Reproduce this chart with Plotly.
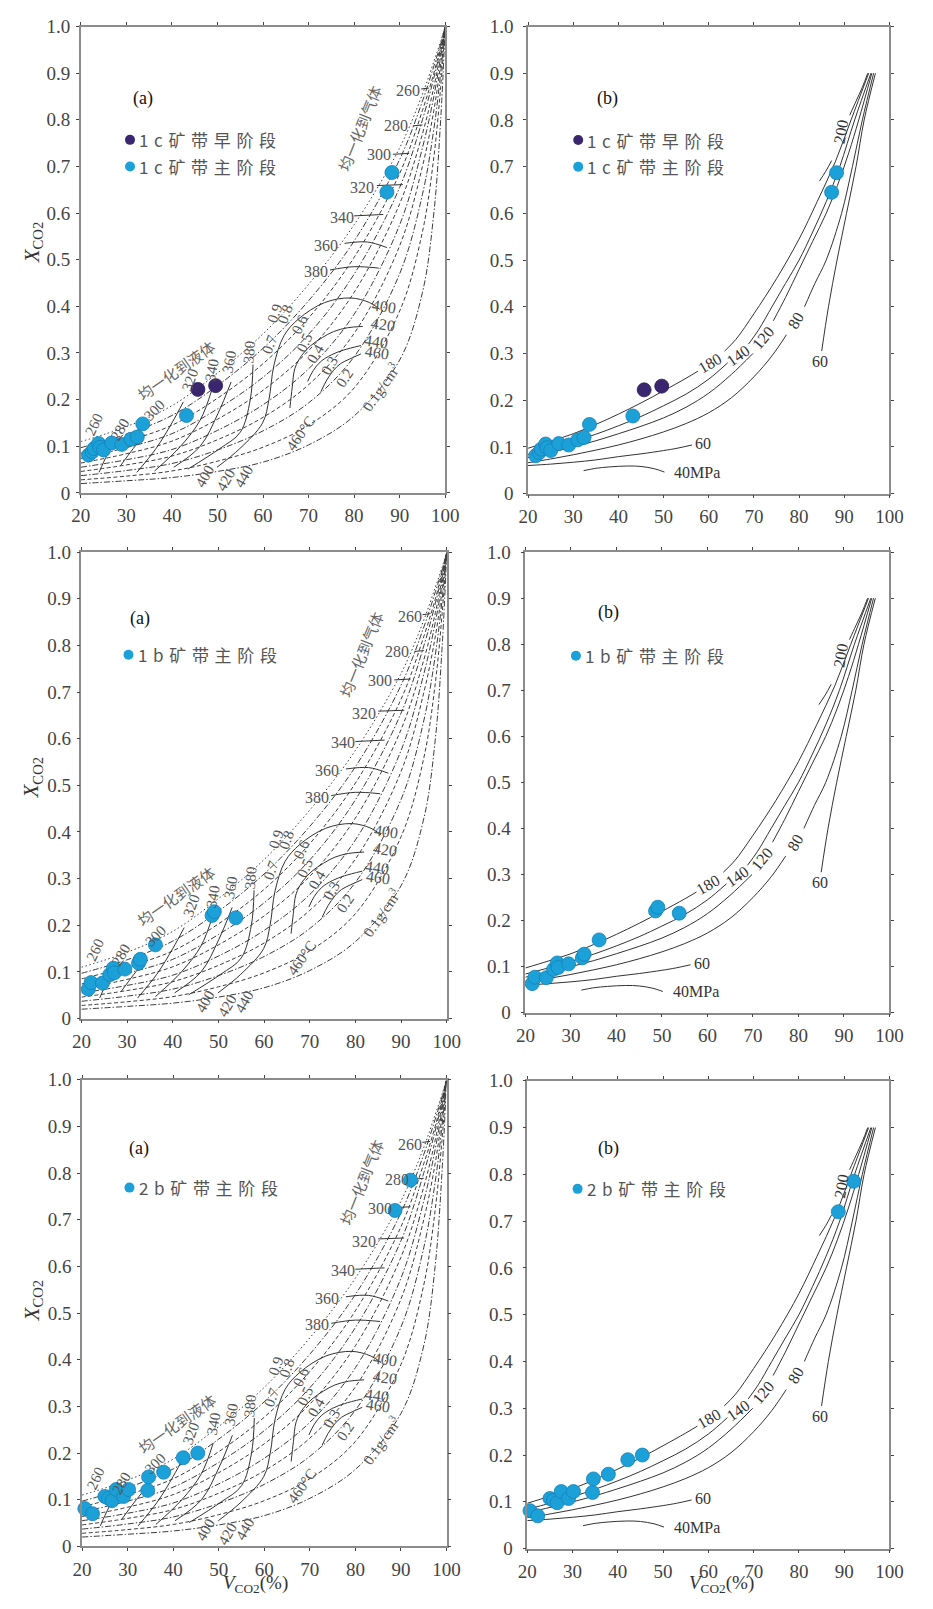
import plotly.graph_objects as go

# ---------------- axis ticks ----------------
X_TICKS = [20, 30, 40, 50, 60, 70, 80, 90, 100]
Y_TICKS = [0, 0.1, 0.2, 0.3, 0.4, 0.5, 0.6, 0.7, 0.8, 0.9, 1.0]
Y_TICKTEXT = ["0", "0.1", "0.2", "0.3", "0.4", "0.5", "0.6", "0.7", "0.8", "0.9", "1.0"]

# ---------------- measured inclusions (V_CO2 %, X_CO2) ----------------
C1_EARLY_V = [45.7, 49.6]
C1_EARLY_X = [0.222, 0.230]
C1_MAIN_V = [21.7, 22.5, 22.9, 23.9, 24.2, 25.0, 26.8, 29.0, 31.0, 32.4, 33.6, 43.2, 87.2, 88.3]
C1_MAIN_X = [0.081, 0.088, 0.095, 0.106, 0.098, 0.092, 0.107, 0.104, 0.115, 0.120, 0.148, 0.166, 0.645, 0.687]
B1_MAIN_V = [21.5, 22.1, 24.6, 26.2, 27.0, 27.2, 29.5, 32.5, 32.9, 36.2, 48.6, 49.1, 53.8]
B1_MAIN_X = [0.063, 0.077, 0.076, 0.094, 0.108, 0.098, 0.106, 0.119, 0.127, 0.158, 0.221, 0.229, 0.216]
B2_MAIN_V = [20.6, 22.3, 25.0, 25.8, 26.6, 27.5, 29.1, 30.2, 34.4, 34.6, 37.9, 42.2, 45.4, 88.7, 92.1]
B2_MAIN_X = [0.081, 0.070, 0.107, 0.103, 0.098, 0.122, 0.107, 0.122, 0.120, 0.149, 0.159, 0.190, 0.200, 0.720, 0.785]

LEGEND_1 = ["1c矿带早阶段", "1c矿带主阶段"]
LEGEND_2 = ["1b矿带主阶段"]
LEGEND_3 = ["2b矿带主阶段"]

# ---------------- (a) diagram: CO2-phase density fan ----------------
FAN_V = [20, 30, 40, 50, 60, 70, 80, 90, 95, 97.5, 99, 100]
FAN_1 = [0.020, 0.026, 0.033, 0.046, 0.066, 0.103, 0.165, 0.285, 0.43, 0.60, 0.80, 1.0]
FAN_2 = [0.028, 0.036, 0.047, 0.068, 0.098, 0.145, 0.225, 0.39, 0.56, 0.72, 0.87, 1.0]
FAN_3 = [0.037, 0.048, 0.063, 0.092, 0.133, 0.193, 0.292, 0.47, 0.64, 0.78, 0.90, 1.0]
FAN_4 = [0.046, 0.060, 0.079, 0.114, 0.162, 0.232, 0.342, 0.53, 0.70, 0.82, 0.92, 1.0]
FAN_5 = [0.055, 0.071, 0.093, 0.134, 0.189, 0.266, 0.383, 0.575, 0.74, 0.85, 0.935, 1.0]
FAN_6 = [0.064, 0.084, 0.111, 0.158, 0.220, 0.305, 0.430, 0.62, 0.77, 0.87, 0.945, 1.0]
FAN_7 = [0.074, 0.097, 0.127, 0.180, 0.248, 0.340, 0.469, 0.655, 0.80, 0.89, 0.952, 1.0]
FAN_8 = [0.085, 0.111, 0.145, 0.203, 0.277, 0.375, 0.505, 0.685, 0.82, 0.90, 0.958, 1.0]
FAN_9 = [0.097, 0.126, 0.166, 0.230, 0.310, 0.412, 0.540, 0.715, 0.84, 0.915, 0.963, 1.0]
FAN_10 = [0.110, 0.142, 0.187, 0.257, 0.341, 0.447, 0.575, 0.74, 0.855, 0.925, 0.968, 1.0]
FAN_LINES = [FAN_1, FAN_2, FAN_3, FAN_4, FAN_5, FAN_6, FAN_7, FAN_8, FAN_9, FAN_10]

# homogenisation-to-liquid isotherms (solid)
LIQ_CURVES = [
    ([24.0, 25.0, 26.2], [0.044, 0.066, 0.090]),
    ([28.7, 31.5, 34.0], [0.058, 0.095, 0.125]),
    ([32.3, 36.5, 40.0, 42.5], [0.044, 0.095, 0.150, 0.195]),
    ([36.2, 41.9, 46.2, 48.8], [0.047, 0.100, 0.156, 0.222]),
    ([40.4, 46.2, 50.1, 53.0], [0.055, 0.100, 0.170, 0.238]),
    ([43.5, 50.5, 55.0, 57.2, 57.8], [0.051, 0.095, 0.130, 0.200, 0.275]),
    ([49.9, 54.9, 59.9, 61.3, 62.4, 64.6, 67.8, 73.5, 79.2, 83.4, 85.6],
     [0.055, 0.095, 0.150, 0.200, 0.274, 0.337, 0.373, 0.408, 0.418, 0.408, 0.394]),
    ([65.9, 66.4, 67.0, 68.5, 70.5, 73.0, 75.5, 78.5, 81.9],
     [0.182, 0.225, 0.267, 0.295, 0.316, 0.333, 0.346, 0.354, 0.357]),
    ([69.8, 71.0, 72.6, 75.0, 77.6, 81.5], [0.239, 0.262, 0.281, 0.296, 0.306, 0.316]),
    ([72.7, 74.0, 75.5, 77.0, 79.0, 81.5], [0.217, 0.242, 0.263, 0.277, 0.287, 0.298]),
]
# homogenisation-to-gas isotherms (short solid segments)
GAS_CURVES = [
    ([94.7, 96.4], [0.866, 0.868]),
    ([92.9, 95.0], [0.787, 0.789]),
    ([88.5, 92.1], [0.726, 0.728]),
    ([85.0, 90.7], [0.659, 0.661]),
    ([80.0, 86.4], [0.594, 0.597]),
    ([77.9, 82.9, 87.2], [0.535, 0.538, 0.526]),
    ([74.7, 80.0, 85.4], [0.478, 0.485, 0.482]),
]

LIQ_LABELS = ["260", "280", "300", "320", "340", "360", "380"]
LIQ_LABEL_V = [23.0, 28.7, 36.2, 44.0, 48.8, 52.7, 57.0]
LIQ_LABEL_X = [0.147, 0.136, 0.178, 0.242, 0.263, 0.282, 0.302]
BOT_LABELS = ["400", "420", "440"]
BOT_LABEL_V = [47.2, 51.9, 55.8]
BOT_LABEL_X = [0.037, 0.027, 0.037]
ARC_LABELS = ["400", "420", "440", "460"]
ARC_LABEL_V = [86.6, 86.4, 84.8, 85.0]
ARC_LABEL_X = [0.400, 0.362, 0.324, 0.302]
GAS_LABELS = ["260", "280", "300", "320", "340", "360", "380"]
GAS_LABEL_V = [91.9, 89.1, 85.4, 81.8, 77.3, 73.8, 71.6]
GAS_LABEL_X = [0.862, 0.787, 0.725, 0.654, 0.591, 0.531, 0.475]
DENS_LABELS = ["0.9", "0.8", "0.7", "0.6", "0.5", "0.4", "0.3", "0.2", "0.1g/cm<sup>3</sup>"]
DENS_LABEL_V = [62.6, 64.9, 61.5, 68.1, 69.0, 71.5, 74.7, 77.9, 85.7]
DENS_LABEL_X = [0.386, 0.383, 0.319, 0.362, 0.322, 0.298, 0.274, 0.247, 0.228]
T460_LABEL = ("460°C", 68.3, 0.129)
LIQ_ZONE = ("均一化到液体", 40.8, 0.263)
GAS_ZONE = ("均一化到气体", 81.2, 0.781)

# ---------------- (b) diagram: isobars (MPa) ----------------
ISOBARS = [
    ([84.5, 85.9, 87.2], [0.669, 0.690, 0.713]),                       # 200 lower
    ([91.2, 92.6, 94.0, 95.2], [0.810, 0.840, 0.870, 0.900]),          # 200 upper
    ([20, 25, 30, 35, 40, 45, 50, 55, 57.6],
     [0.097, 0.112, 0.128, 0.148, 0.170, 0.194, 0.220, 0.247, 0.262]),  # 180
    ([63.5, 66, 70, 75, 80, 84, 88, 91.5, 95.4],
     [0.305, 0.330, 0.385, 0.460, 0.545, 0.625, 0.710, 0.800, 0.900]),
    ([20, 25, 30, 35, 40, 45, 50, 55, 60, 64.2],
     [0.084, 0.097, 0.111, 0.127, 0.145, 0.165, 0.188, 0.213, 0.245, 0.280]),  # 140
    ([68.8, 71, 74, 77, 80, 83, 86, 89, 92.3, 95.9],
     [0.320, 0.350, 0.400, 0.450, 0.500, 0.560, 0.625, 0.700, 0.800, 0.900]),
    ([20, 25, 30, 35, 40, 45, 50, 55, 60, 65, 69.8],
     [0.077, 0.088, 0.100, 0.113, 0.128, 0.144, 0.162, 0.185, 0.215, 0.255, 0.300]),  # 120
    ([74.3, 77, 80, 83, 86, 88.5, 91, 93.2, 96.1],
     [0.370, 0.420, 0.480, 0.540, 0.600, 0.660, 0.730, 0.800, 0.900]),
    ([20, 25, 30, 35, 40, 45, 50, 55, 60, 65, 70, 74, 77.2],
     [0.066, 0.074, 0.083, 0.093, 0.104, 0.117, 0.132, 0.150, 0.173, 0.205, 0.250, 0.295, 0.340]),  # 80
    ([81.2, 83.5, 86, 89.4, 91.8, 94.0, 96.5],
     [0.400, 0.450, 0.500, 0.600, 0.700, 0.800, 0.900]),
    ([85.0, 86.5, 88.4, 90.5, 92.6, 94.4, 96.9],
     [0.305, 0.400, 0.500, 0.600, 0.700, 0.800, 0.900]),                # 60 upper
    ([20, 25, 30, 35, 40, 45, 50, 53, 56.3],
     [0.060, 0.063, 0.067, 0.072, 0.079, 0.085, 0.092, 0.097, 0.104]),  # 60 lower
    ([32.3, 35, 38, 42, 45, 48, 50.2],
     [0.049, 0.054, 0.057, 0.059, 0.058, 0.053, 0.046]),                # 40
]
ISOBAR_LABELS = ["200", "180", "140", "120", "80", "60", "60", "40MPa"]
ISOBAR_LABEL_V = [89.3, 60.2, 66.5, 72.1, 79.3, 84.7, 58.8, 57.4]
ISOBAR_LABEL_X = [0.775, 0.278, 0.296, 0.334, 0.370, 0.282, 0.107, 0.046]

# ---------------- styling ----------------
CYAN = "#1ca0d8"
CYAN_EDGE = "#1582b8"
PURPLE = "#3a266e"
INK = "#333333"
LABEL_GREY = "#555555"
SERIF = "Liberation Serif"
CJK = "Noto Sans CJK SC"
DASHDOT = "6px,2px,1.5px,2px"
DASH = "4px,2.5px"
DOT = "1.5px,2.5px"
FAN_DASH = [DASHDOT, DASH, DASHDOT, DASH, DASHDOT, DASH, DASHDOT, DASH, DASHDOT, DOT]
LIQ_ANGLES = [-65, -60, -45, -70, -80, -80, -85]
DENS_ANGLES = [-70, -70, -70, -65, -65, -60, -60, -55, -55]
ISOBAR_ANGLES = [-80, -30, -35, -50, -60, 0, 0, 0]

XD = {1: [0.0779, 0.4788], 2: [0.5699, 0.9675], 3: [0.0786, 0.4805],
      4: [0.5670, 0.9675], 5: [0.0793, 0.4802], 6: [0.5691, 0.9675]}
YD = {1: [0.6959, 0.9896], 2: [0.6955, 0.9896], 3: [0.3649, 0.6586],
      4: [0.3686, 0.6586], 5: [0.0325, 0.3263], 6: [0.0311, 0.3257]}

fig = go.Figure()


def refs(i):
    return ("x" if i == 1 else f"x{i}", "y" if i == 1 else f"y{i}")


def add_line(i, xs, ys, dash="solid", width=0.9, color=INK):
    xr, yr = refs(i)
    fig.add_trace(go.Scatter(x=xs, y=ys, mode="lines", xaxis=xr, yaxis=yr,
                             line=dict(color=color, width=width, dash=dash,
                                       shape="spline", smoothing=1.0),
                             hoverinfo="skip", showlegend=False))


def add_text(i, text, x, y, angle=0, size=15, color=LABEL_GREY, family=SERIF):
    xr, yr = refs(i)
    fig.add_annotation(xref=xr, yref=yr, x=x, y=y, text=text, textangle=angle,
                       xanchor="center", yanchor="middle",
                       showarrow=False, font=dict(family=family, size=size, color=color))


def add_points(i, xs, ys, color, size=14):
    xr, yr = refs(i)
    fig.add_trace(go.Scatter(x=xs, y=ys, mode="markers", xaxis=xr, yaxis=yr,
                             cliponaxis=False,
                             marker=dict(size=size, color=color,
                                         line=dict(color=CYAN_EDGE if color == CYAN else "#2a1a55", width=0.8)),
                             hoverinfo="skip", showlegend=False))


def template_a(i):
    for ys, d in zip(FAN_LINES, FAN_DASH):
        add_line(i, FAN_V, ys, dash=d, width=1.0, color="#3c3c3c")
    for xs, ys in LIQ_CURVES:
        add_line(i, xs, ys, width=1.0)
    for xs, ys in GAS_CURVES:
        add_line(i, xs, ys, width=1.0)
    for t, x, y, a in zip(LIQ_LABELS, LIQ_LABEL_V, LIQ_LABEL_X, LIQ_ANGLES):
        add_text(i, t, x, y, a)
    for t, x, y in zip(BOT_LABELS, BOT_LABEL_V, BOT_LABEL_X):
        add_text(i, t, x, y, -60)
    for t, x, y in zip(ARC_LABELS, ARC_LABEL_V, ARC_LABEL_X):
        add_text(i, t, x, y, 8, size=16)
    for t, x, y in zip(GAS_LABELS, GAS_LABEL_V, GAS_LABEL_X):
        add_text(i, t, x, y, 0, size=16)
    for t, x, y, a in zip(DENS_LABELS, DENS_LABEL_V, DENS_LABEL_X, DENS_ANGLES):
        add_text(i, t, x, y, a)
    add_text(i, T460_LABEL[0], T460_LABEL[1], T460_LABEL[2], -55)
    add_text(i, LIQ_ZONE[0], LIQ_ZONE[1], LIQ_ZONE[2], -35, size=15, family=CJK, color="#666666")
    add_text(i, GAS_ZONE[0], GAS_ZONE[1], GAS_ZONE[2], -68, size=15, family=CJK, color="#666666")


def template_b(i):
    for xs, ys in ISOBARS:
        add_line(i, xs, ys, width=1.0)
    for t, x, y, a in zip(ISOBAR_LABELS, ISOBAR_LABEL_V, ISOBAR_LABEL_X, ISOBAR_ANGLES):
        add_text(i, t, x, y, a, size=16, color="#333333")


def spaced(s):
    return "\u2004".join(s)


def legend(i, entries, colors, x0, y0, dy, tag, tag_xy):
    xr, yr = refs(i)
    for k, (name, c) in enumerate(zip(entries, colors)):
        y = y0 - k * dy
        fig.add_trace(go.Scatter(x=[x0], y=[y], mode="markers", xaxis=xr, yaxis=yr,
                                 marker=dict(size=10, color=c), hoverinfo="skip", showlegend=False))
        fig.add_annotation(xref=xr, yref=yr, x=x0 + 1.6, y=y, text=spaced(name),
                           xanchor="left", yanchor="middle",
                           showarrow=False, font=dict(family=CJK, size=17, color="#555555"))
    fig.add_annotation(xref=xr, yref=yr, x=tag_xy[0], y=tag_xy[1], text=tag, showarrow=False,
                       xanchor="center", yanchor="middle",
                       font=dict(family=SERIF, size=18, color="#111111"))


# row 1 (1c)
template_a(1)
add_points(1, C1_MAIN_V, C1_MAIN_X, CYAN)
add_points(1, C1_EARLY_V, C1_EARLY_X, PURPLE)
legend(1, LEGEND_1, [PURPLE, CYAN], 30.8, 0.757, 0.057, "(a)", (33.7, 0.845))
template_b(2)
add_points(2, C1_MAIN_V, C1_MAIN_X, CYAN)
add_points(2, C1_EARLY_V, C1_EARLY_X, PURPLE)
legend(2, LEGEND_1, [PURPLE, CYAN], 31.1, 0.757, 0.057, "(b)", (37.6, 0.845))
# row 2 (1b)
template_a(3)
add_points(3, B1_MAIN_V, B1_MAIN_X, CYAN)
legend(3, LEGEND_2, [CYAN], 30.3, 0.780, 0.057, "(a)", (32.8, 0.857))
template_b(4)
add_points(4, B1_MAIN_V, B1_MAIN_X, CYAN)
legend(4, LEGEND_2, [CYAN], 31.1, 0.775, 0.057, "(b)", (38.2, 0.869))
# row 3 (2b)
template_a(5)
add_points(5, B2_MAIN_V, B2_MAIN_X, CYAN)
legend(5, LEGEND_3, [CYAN], 30.4, 0.769, 0.057, "(a)", (32.6, 0.853))
template_b(6)
add_points(6, B2_MAIN_V, B2_MAIN_X, CYAN)
legend(6, LEGEND_3, [CYAN], 31.1, 0.769, 0.057, "(b)", (37.9, 0.856))

layout = dict(width=933, height=1609, margin=dict(l=0, r=0, t=0, b=0),
              paper_bgcolor="white", plot_bgcolor="white", showlegend=False)
tickfont = dict(family=SERIF, size=19, color="#444444")
for i in range(1, 7):
    xr, yr = refs(i)
    xkey = "xaxis" if i == 1 else f"xaxis{i}"
    ykey = "yaxis" if i == 1 else f"yaxis{i}"
    common = dict(showline=True, linecolor="#8c8c8c", linewidth=1.5, mirror="ticks",
                  ticks="outside", ticklen=3, tickwidth=1.2, tickcolor="#444444",
                  showgrid=False, zeroline=False, tickfont=tickfont, fixedrange=True)
    layout[xkey] = dict(domain=XD[i], range=[20, 100], anchor=yr, tickmode="array",
                        tickvals=X_TICKS, ticktext=[str(v) for v in X_TICKS],
                        ticklabelstandoff=2, **common)
    layout[ykey] = dict(domain=YD[i], range=[0, 1], anchor=xr, tickmode="array",
                        tickvals=Y_TICKS, ticktext=Y_TICKTEXT,
                        ticklabelstandoff=2 if i % 2 else 6, **common)
fig.update_layout(**layout)

for yc in [0.854, 0.517, 0.1877]:
    fig.add_annotation(xref="paper", yref="paper", x=0.0247, y=yc,
                       xanchor="center", yanchor="middle",
                       text="<i>X</i><sub>CO2</sub>", textangle=-90, showarrow=False,
                       font=dict(family=SERIF, size=21, color="#333333"))
for xc in [0.270, 0.7824]:
    fig.add_annotation(xref="paper", yref="paper", x=xc, y=0.0,
                       xanchor="center", yanchor="bottom",
                       text="<i>V</i><sub>CO2</sub>(%)", showarrow=False,
                       font=dict(family=SERIF, size=19, color="#333333"))

fig.write_html("out.html")
